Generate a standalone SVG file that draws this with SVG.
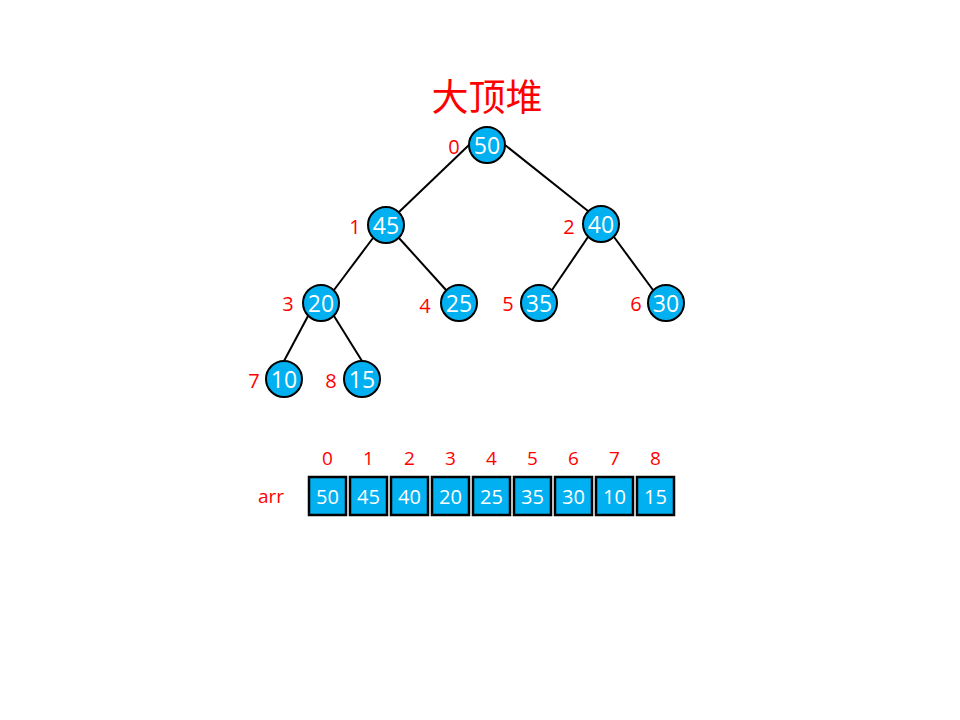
<svg xmlns="http://www.w3.org/2000/svg" width="960" height="720" viewBox="0 0 960 720">
<style>
.edge{stroke:#000;stroke-width:2;fill:none}
.node circle{fill:#00B0F0;stroke:#000;stroke-width:2}
.val{font-family:"Open Sans","Liberation Sans",sans-serif;font-size:23px;fill:#fff;text-anchor:middle;dominant-baseline:central}
.idx{font-family:"Open Sans","Liberation Sans",sans-serif;font-size:20px;fill:#FF0000;text-anchor:middle;dominant-baseline:central}
.aidx{font-family:"Open Sans","Liberation Sans",sans-serif;font-size:19px;fill:#FF0000;text-anchor:middle;dominant-baseline:central}
.cell rect{fill:#00B0F0;stroke:#000;stroke-width:2.5}
.cval{font-family:"Open Sans","Liberation Sans",sans-serif;font-size:20px;fill:#fff;text-anchor:middle;dominant-baseline:central}
</style>
<rect width="960" height="720" fill="#fff"/>
<text x="487" y="95" font-family="'Noto Sans CJK SC',sans-serif" font-size="37" fill="#FF0000" text-anchor="middle" dominant-baseline="central">大顶堆</text>
<g id="connectors">
<line class="edge" x1="469" y1="145" x2="399" y2="212"/>
<line class="edge" x1="505" y1="145" x2="588" y2="211"/>
<line class="edge" x1="373" y1="238" x2="334" y2="290"/>
<line class="edge" x1="399" y1="238" x2="446" y2="290"/>
<line class="edge" x1="588" y1="237" x2="552" y2="290"/>
<line class="edge" x1="614" y1="237" x2="653" y2="290"/>
<line class="edge" x1="308" y1="316" x2="284" y2="361"/>
<line class="edge" x1="334" y1="316" x2="362" y2="361"/>
</g>
<g id="n0" class="node"><circle cx="487" cy="145" r="18"/><text class="val" x="487" y="145">50</text><text class="idx" x="454" y="146">0</text></g>
<g id="n1" class="node"><circle cx="386" cy="225" r="18"/><text class="val" x="386" y="225">45</text><text class="idx" x="355" y="226">1</text></g>
<g id="n2" class="node"><circle cx="601" cy="224" r="18"/><text class="val" x="601" y="224">40</text><text class="idx" x="569" y="226">2</text></g>
<g id="n3" class="node"><circle cx="321" cy="303" r="18"/><text class="val" x="321" y="303">20</text><text class="idx" x="288" y="303">3</text></g>
<g id="n4" class="node"><circle cx="459" cy="303" r="18"/><text class="val" x="459" y="303">25</text><text class="idx" x="425" y="305">4</text></g>
<g id="n5" class="node"><circle cx="539" cy="303" r="18"/><text class="val" x="539" y="303">35</text><text class="idx" x="508" y="303">5</text></g>
<g id="n6" class="node"><circle cx="666" cy="303" r="18"/><text class="val" x="666" y="303">30</text><text class="idx" x="636" y="303">6</text></g>
<g id="n7" class="node"><circle cx="284" cy="379" r="18"/><text class="val" x="284" y="379">10</text><text class="idx" x="254" y="380">7</text></g>
<g id="n8" class="node"><circle cx="362" cy="379" r="18"/><text class="val" x="362" y="379">15</text><text class="idx" x="331" y="380">8</text></g>
<g id="array">
<text class="aidx" x="271" y="496">arr</text>
<g class="cell"><rect x="309" y="477" width="37" height="38"/><text class="cval" x="327.5" y="496">50</text><text class="aidx" x="327.5" y="458">0</text></g>
<g class="cell"><rect x="350" y="477" width="37" height="38"/><text class="cval" x="368.5" y="496">45</text><text class="aidx" x="368.5" y="458">1</text></g>
<g class="cell"><rect x="391" y="477" width="37" height="38"/><text class="cval" x="409.5" y="496">40</text><text class="aidx" x="409.5" y="458">2</text></g>
<g class="cell"><rect x="432" y="477" width="37" height="38"/><text class="cval" x="450.5" y="496">20</text><text class="aidx" x="450.5" y="458">3</text></g>
<g class="cell"><rect x="473" y="477" width="37" height="38"/><text class="cval" x="491.5" y="496">25</text><text class="aidx" x="491.5" y="458">4</text></g>
<g class="cell"><rect x="514" y="477" width="37" height="38"/><text class="cval" x="532.5" y="496">35</text><text class="aidx" x="532.5" y="458">5</text></g>
<g class="cell"><rect x="555" y="477" width="37" height="38"/><text class="cval" x="573.5" y="496">30</text><text class="aidx" x="573.5" y="458">6</text></g>
<g class="cell"><rect x="596" y="477" width="37" height="38"/><text class="cval" x="614.5" y="496">10</text><text class="aidx" x="614.5" y="458">7</text></g>
<g class="cell"><rect x="637" y="477" width="37" height="38"/><text class="cval" x="655.5" y="496">15</text><text class="aidx" x="655.5" y="458">8</text></g>
</g>
</svg>
